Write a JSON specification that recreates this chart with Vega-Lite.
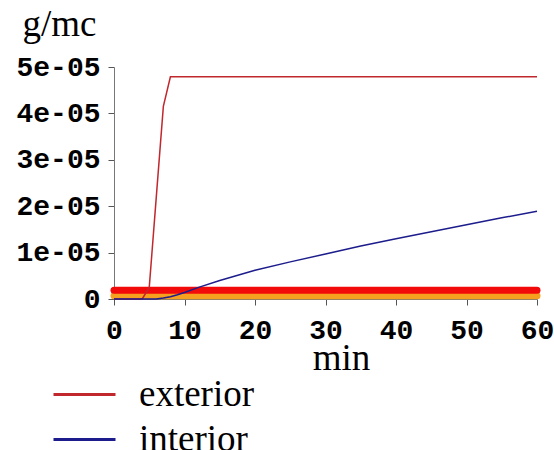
{
  "$schema": "https://vega.github.io/schema/vega-lite/v6.json",
  "autosize": {"type": "none"},
  "width": 423,
  "height": 232,
  "padding": {"left": 114, "top": 67, "right": 17, "bottom": 151},
  "background": "white",
  "config": {"view": {"stroke": null}},
  "datasets": {
    "bands": [
      {"t": 0, "v": 0.0000007, "band": "orange"},
      {"t": 60, "v": 0.0000007, "band": "orange"},
      {"t": 0, "v": 0.0000019, "band": "red"},
      {"t": 60, "v": 0.0000019, "band": "red"}
    ],
    "lines": [
      {"t": 0, "v": 0, "series": "exterior"},
      {"t": 4, "v": 0, "series": "exterior"},
      {"t": 5, "v": 0.0000025, "series": "exterior"},
      {"t": 6, "v": 0.000022, "series": "exterior"},
      {"t": 7, "v": 0.0000415, "series": "exterior"},
      {"t": 8, "v": 0.0000479, "series": "exterior"},
      {"t": 60, "v": 0.0000479, "series": "exterior"},
      {"t": 0, "v": 0, "series": "interior"},
      {"t": 5, "v": 0, "series": "interior"},
      {"t": 6, "v": 0, "series": "interior"},
      {"t": 7, "v": 0.0000002, "series": "interior"},
      {"t": 8, "v": 0.0000005, "series": "interior"},
      {"t": 9, "v": 0.0000009, "series": "interior"},
      {"t": 10, "v": 0.0000014, "series": "interior"},
      {"t": 12, "v": 0.0000025, "series": "interior"},
      {"t": 15, "v": 0.000004, "series": "interior"},
      {"t": 20, "v": 0.0000062, "series": "interior"},
      {"t": 25, "v": 0.000008, "series": "interior"},
      {"t": 30, "v": 0.0000097, "series": "interior"},
      {"t": 35, "v": 0.0000114, "series": "interior"},
      {"t": 40, "v": 0.000013, "series": "interior"},
      {"t": 45, "v": 0.0000145, "series": "interior"},
      {"t": 50, "v": 0.000016, "series": "interior"},
      {"t": 55, "v": 0.0000175, "series": "interior"},
      {"t": 60, "v": 0.0000189, "series": "interior"}
    ]
  },
  "encoding": {
    "x": {
      "field": "t", "type": "quantitative",
      "scale": {"domain": [0, 60], "nice": false, "zero": false},
      "axis": {
        "values": [0, 10, 20, 30, 40, 50, 60],
        "grid": false,
        "domainColor": "#777777",
        "tickColor": "#555555",
        "tickSize": 6,
        "labelFont": "Liberation Mono",
        "labelFontWeight": "bold",
        "labelFontSize": 28,
        "labelColor": "black",
        "labelPadding": 11,
        "labelFlush": false,
        "title": "min",
        "titleFont": "Liberation Serif",
        "titleFontWeight": "normal",
        "titleFontSize": 37,
        "titleColor": "black",
        "titleX": 227,
        "titleY": 70,
        "titleBaseline": "alphabetic",
        "titleAlign": "center"
      }
    },
    "y": {
      "field": "v", "type": "quantitative",
      "scale": {"domain": [0, 0.00005], "nice": false},
      "axis": {
        "values": [0, 0.00001, 0.00002, 0.00003, 0.00004, 0.00005],
        "labelExpr": "datum.value == 0 ? '0' : replace(format(datum.value, '.0e'), 'e-', 'e-0')",
        "grid": false,
        "domainColor": "#777777",
        "tickColor": "#555555",
        "tickSize": 6,
        "labelFont": "Liberation Mono",
        "labelFontWeight": "bold",
        "labelFontSize": 28,
        "labelColor": "black",
        "labelPadding": 8,
        "labelFlush": false,
        "title": "g/mc",
        "titleFont": "Liberation Serif",
        "titleFontWeight": "normal",
        "titleFontSize": 37,
        "titleColor": "black",
        "titleAngle": 0,
        "titleAlign": "left",
        "titleBaseline": "alphabetic",
        "titleX": -92,
        "titleY": -32
      }
    }
  },
  "layer": [
    {
      "data": {"name": "bands"},
      "transform": [{"filter": "datum.band == 'orange'"}],
      "mark": {"type": "line", "color": "#f5a01f", "strokeWidth": 7, "strokeCap": "round"},
      "encoding": {}
    },
    {
      "data": {"name": "bands"},
      "transform": [{"filter": "datum.band == 'red'"}],
      "mark": {"type": "line", "color": "#f20a0a", "strokeWidth": 7, "strokeCap": "round"},
      "encoding": {}
    },
    {
      "data": {"name": "lines"},
      "mark": {"type": "line", "strokeWidth": 1.5},
      "encoding": {
        "color": {
          "field": "series", "type": "nominal",
          "scale": {"domain": ["exterior", "interior"], "range": ["#c0282d", "#1c1c8c"]},
          "legend": {
            "title": null,
            "orient": "none",
            "legendX": -48,
            "legendY": 309,
            "symbolType": "M-2,0H2",
            "symbolSize": 961,
            "symbolStrokeWidth": 3,
            "labelFont": "Liberation Serif",
            "labelFontSize": 37,
            "labelColor": "black",
            "labelOffset": 36,
            "rowPadding": 7,
            "padding": 0
          }
        }
      }
    }
  ]
}
